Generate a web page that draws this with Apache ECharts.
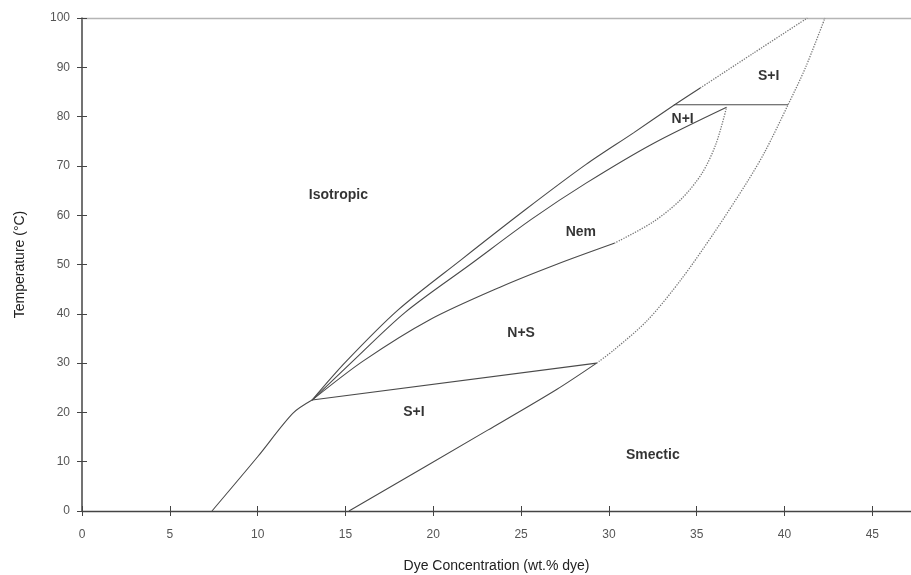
<!DOCTYPE html>
<html>
<head>
<meta charset="utf-8">
<style>
  html, body { margin: 0; padding: 0; background: #fff; }
  #main { width: 911px; height: 575px; }
</style>
<script src="https://cdn.jsdelivr.net/npm/echarts@6/dist/echarts.min.js"></script>
</head>
<body>
<div id="main"></div>
<script>
// phase boundaries, [wt.% dye, temperature]
var leftLower = [[7.4, 0], [10, 11], [12, 19.8], [13.1, 22.5]]
var outerSolid = [[13.1, 22.5], [15, 30.2], [18, 40.8], [21.6, 51], [25.2, 61], [28.7, 70.3], [31.4, 76.7], [33.7, 82.3], [35.2, 85.8]]
var outerDotted = [[35.2, 85.8], [38.2, 92.8], [41.3, 100]]
var innerCurve = [[13.1, 22.5], [15.3, 30], [18.4, 40.3], [22.1, 50], [25.6, 59.2], [28.7, 66.5], [32.5, 74.5], [36.7, 81.9]]
var middleSolid = [[13.1, 22.5], [16, 30.4], [19.8, 38.8], [23.8, 45.4], [27, 50], [30.3, 54.3]]
var middleDotted = [[30.3, 54.3], [32.5, 58.6], [34.1, 63.2], [35.3, 68.5], [36.1, 74.5], [36.7, 81.9]]
var tieTop = [[33.7, 82.4], [40.2, 82.4]]
var tieLow = [[13.1, 22.5], [29.3, 30]]
var lowerSolid = [[15.2, 0], [23.1, 16.4], [27, 24.6], [29.3, 30]]
var rightDotted = [[29.3, 30], [30.3, 32.7], [32.2, 38.7], [34.1, 46.9], [36, 56.5], [37.9, 66.9], [38.9, 73], [40.2, 82.4], [41.2, 90], [42.3, 100]]

// region labels
var regionNames = ['Isotropic', 'Nem', 'N+I', 'S+I', 'N+S', 'S+I', 'Smectic']
var regionX = [14.6, 28.4, 34.2, 39.1, 25, 18.9, 32.5]
var regionY = [64, 56.5, 79.5, 88.2, 36, 20, 11.3]

var xTicks = { min: 0, max: 47.2, interval: 5 }
var yTicks = { min: 0, max: 100, interval: 10 }

var FONT = 'Liberation Sans'
var solidStyle = { color: '#4a4a4a', width: 1.1 }
var dottedStyle = { color: '#777', width: 1.3, type: 'dotted' }

function boundary(data, style) {
  return {
    type: 'line',
    data: data,
    smooth: 0.3,
    showSymbol: false,
    silent: true,
    lineStyle: style
  }
}

var chart = echarts.init(document.getElementById('main'))

var labelData = regionNames.map(function (n, i) {
  return { name: n, value: [regionX[i], regionY[i]] }
})

chart.setOption({
  animation: false,
  backgroundColor: '#fff',
  grid: { left: 82, right: 0, top: 18, bottom: 64, containLabel: false, outerBoundsMode: 'none' },
  xAxis: [
    {
      type: 'value', position: 'bottom', min: xTicks.min, max: xTicks.max, interval: xTicks.interval,
      name: 'Dye Concentration (wt.% dye)', nameLocation: 'middle', nameGap: 48,
      nameTextStyle: { fontFamily: FONT, fontSize: 14, color: '#222' },
      axisLine: { lineStyle: { color: '#444', width: 1.3 } },
      axisTick: { length: 5, lineStyle: { color: '#444' } },
      axisLabel: { fontFamily: FONT, fontSize: 12, color: '#555', margin: 18, showMaxLabel: false },
      splitLine: { show: false }
    },
    {
      type: 'value', position: 'bottom', min: xTicks.min, max: xTicks.max, interval: xTicks.interval,
      axisLine: { show: false },
      axisTick: { inside: true, length: 5, lineStyle: { color: '#444' } },
      axisLabel: { show: false },
      splitLine: { show: false }
    },
    {
      type: 'value', position: 'top', min: xTicks.min, max: xTicks.max,
      axisLine: { lineStyle: { color: '#b5b5b5', width: 1.3 } },
      axisTick: { show: false },
      axisLabel: { show: false },
      splitLine: { show: false }
    }
  ],
  yAxis: [
    {
      type: 'value', position: 'left', min: yTicks.min, max: yTicks.max, interval: yTicks.interval,
      name: 'Temperature (°C)', nameLocation: 'middle', nameGap: 55,
      nameTextStyle: { fontFamily: FONT, fontSize: 14, color: '#222' },
      axisLine: { lineStyle: { color: '#444', width: 1.5 } },
      axisTick: { length: 5, lineStyle: { color: '#444' } },
      axisLabel: { fontFamily: FONT, fontSize: 12, color: '#555', margin: 12 },
      splitLine: { show: false }
    },
    {
      type: 'value', position: 'left', min: yTicks.min, max: yTicks.max, interval: yTicks.interval,
      axisLine: { show: false },
      axisTick: { inside: true, length: 5, lineStyle: { color: '#444' } },
      axisLabel: { show: false },
      splitLine: { show: false }
    }
  ],
  series: [
    boundary(leftLower, solidStyle),
    boundary(outerSolid, solidStyle),
    boundary(outerDotted, dottedStyle),
    boundary(innerCurve, solidStyle),
    boundary(middleSolid, solidStyle),
    boundary(middleDotted, dottedStyle),
    boundary(tieTop, solidStyle),
    boundary(tieLow, solidStyle),
    boundary(lowerSolid, solidStyle),
    boundary(rightDotted, dottedStyle),
    {
      type: 'scatter',
      data: labelData,
      symbolSize: 0,
      silent: true,
      label: {
        show: true,
        position: 'inside',
        formatter: '{b}',
        fontFamily: FONT,
        fontWeight: 'bold',
        fontSize: 14,
        color: '#000'
      }
    }
  ]
})
</script>
</body>
</html>
